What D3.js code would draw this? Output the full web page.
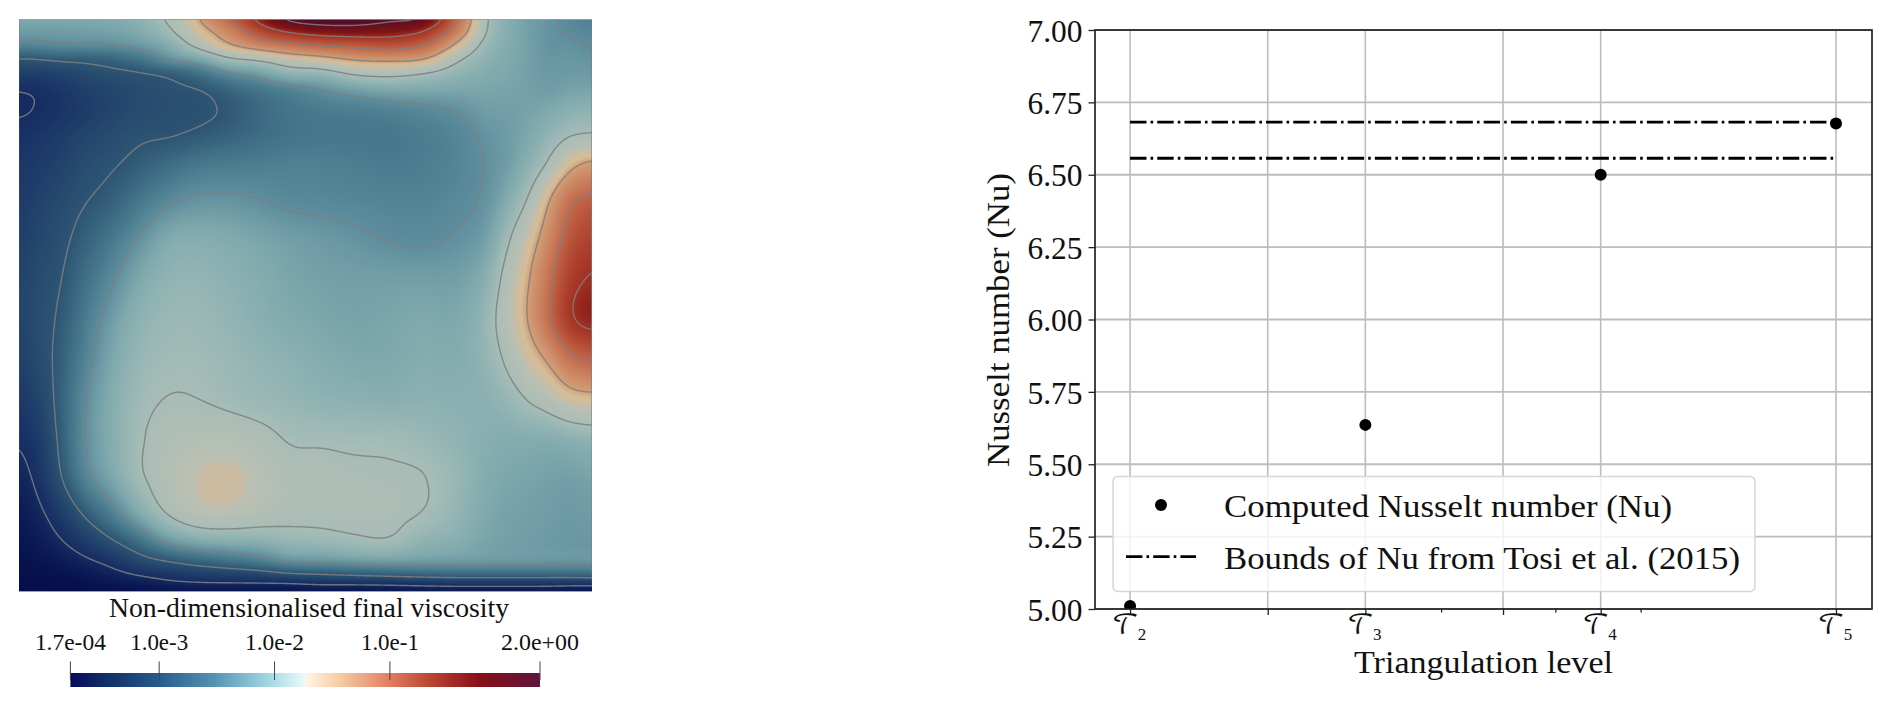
<!DOCTYPE html>
<html><head><meta charset="utf-8">
<style>html,body{margin:0;padding:0;background:#fff}svg{display:block}text{font-family:"Liberation Serif",serif;fill:#111}</style>
<script src="https://d3js.org/d3.v7.min.js"></script></head>
<body><svg id="c" width="1892" height="707"></svg>
<script>
// ---- Right chart data ----
const levelValues=[4,8,16,32];
const levelLabels=["2","3","4","5"];
const nusselt=[5.01,5.636,6.50,6.677];
const boundsNu=[6.682,6.557];
const yTicks=[5,5.25,5.5,5.75,6,6.25,6.5,6.75,7];
const xGridExtra=[6,12];
const xMinor=[10,14,18];
const legendLabels=["Computed Nusselt number (Nu)","Bounds of Nu from Tosi et al. (2015)"];
// ---- Left field data: log10 viscosity estimated at sample nodes (one array per column) ----
const fieldCols=[0,20,40,65,90,120,150,180,210,240,270,300,335,370,405,440,470,490,510,530,550,573];
const fieldRows=[0,12,25,40,55,70,90,115,145,180,220,260,300,340,380,420,460,500,525,545,558,566,573];
const fieldLog=[
[-2.3,-2.4,-2.58,-3.02,-3.3,-3.49,-3.52,-3.46,-3.4,-3.35,-3.3,-3.25,-3.25,-3.3,-3.38,-3.5,-3.6,-3.68,-3.72,-3.75,-3.76,-3.77,-3.77],
[-2.3,-2.4,-2.56,-3,-3.3,-3.46,-3.49,-3.4,-3.33,-3.25,-3.18,-3.12,-3.1,-3.12,-3.22,-3.33,-3.44,-3.58,-3.66,-3.72,-3.75,-3.76,-3.77],
[-2.3,-2.4,-2.52,-2.95,-3.25,-3.38,-3.42,-3.33,-3.25,-3.15,-3.08,-3.03,-2.98,-2.94,-2.92,-2.96,-3.06,-3.38,-3.55,-3.68,-3.74,-3.76,-3.77],
[-2.3,-2.38,-2.52,-2.93,-3.15,-3.28,-3.32,-3.22,-3.12,-3.02,-2.9,-2.78,-2.68,-2.6,-2.53,-2.51,-2.6,-3.02,-3.35,-3.58,-3.7,-3.74,-3.77],
[-2.28,-2.36,-2.5,-2.88,-3.08,-3.2,-3.22,-3.14,-3.04,-2.92,-2.72,-2.56,-2.42,-2.34,-2.28,-2.28,-2.35,-2.72,-3.1,-3.46,-3.63,-3.7,-3.76],
[-2.2,-2.28,-2.42,-2.75,-3.03,-3.12,-3.12,-3.04,-2.92,-2.72,-2.48,-2.3,-2.19,-2.12,-2.07,-2.03,-2.05,-2.35,-2.8,-3.2,-3.52,-3.66,-3.75],
[-1.95,-2.06,-2.25,-2.5,-2.95,-3.05,-3.08,-3.02,-2.8,-2.55,-2.28,-2.16,-2.1,-2.05,-1.99,-1.9,-1.85,-2.03,-2.48,-3.05,-3.42,-3.58,-3.74],
[-1.5,-1.65,-1.87,-2.35,-2.78,-3,-3.05,-2.96,-2.7,-2.47,-2.25,-2.15,-2.1,-2.05,-2,-1.86,-1.72,-1.86,-2.33,-2.92,-3.35,-3.55,-3.72],
[-0.98,-1.28,-1.52,-2.05,-2.55,-2.85,-2.96,-2.88,-2.67,-2.47,-2.28,-2.2,-2.15,-2.1,-2.05,-1.86,-1.68,-1.85,-2.28,-2.82,-3.3,-3.55,-3.72],
[-0.38,-0.75,-1.25,-1.95,-2.42,-2.72,-2.82,-2.8,-2.65,-2.5,-2.33,-2.26,-2.22,-2.15,-2.1,-1.92,-1.79,-1.91,-2.25,-2.72,-3.25,-3.55,-3.72],
[0.1,-0.45,-1.05,-1.75,-2.2,-2.6,-2.72,-2.73,-2.63,-2.55,-2.38,-2.33,-2.28,-2.2,-2.13,-2.02,-1.92,-1.96,-2.15,-2.55,-3.15,-3.55,-3.72],
[0.25,-0.3,-0.93,-1.65,-2.18,-2.5,-2.67,-2.7,-2.63,-2.56,-2.42,-2.36,-2.32,-2.25,-2.18,-2.03,-1.92,-1.96,-2.13,-2.53,-3.1,-3.5,-3.72],
[0.25,-0.25,-0.85,-1.47,-1.98,-2.38,-2.64,-2.7,-2.65,-2.58,-2.46,-2.38,-2.35,-2.3,-2.2,-2.05,-1.95,-1.95,-2.08,-2.47,-3.05,-3.5,-3.72],
[0.08,-0.3,-0.78,-1.43,-1.93,-2.3,-2.6,-2.7,-2.67,-2.6,-2.51,-2.38,-2.33,-2.3,-2.22,-2.05,-1.97,-1.96,-2.05,-2.45,-3,-3.48,-3.72],
[-0.03,-0.5,-0.95,-1.5,-2.02,-2.3,-2.55,-2.65,-2.65,-2.6,-2.53,-2.38,-2.3,-2.25,-2.2,-2.1,-1.99,-2.03,-2.2,-2.45,-2.95,-3.45,-3.7],
[-1.05,-1.25,-1.6,-1.97,-2.18,-2.32,-2.48,-2.57,-2.58,-2.55,-2.47,-2.37,-2.3,-2.26,-2.22,-2.17,-2.13,-2.17,-2.25,-2.46,-2.92,-3.42,-3.7],
[-2.05,-2.07,-2.15,-2.22,-2.28,-2.33,-2.38,-2.45,-2.48,-2.45,-2.35,-2.2,-2.1,-2.13,-2.2,-2.24,-2.28,-2.32,-2.36,-2.46,-2.92,-3.42,-3.7],
[-2.25,-2.25,-2.27,-2.3,-2.32,-2.35,-2.38,-2.4,-2.38,-2.25,-2.02,-1.85,-1.8,-1.93,-2.12,-2.26,-2.32,-2.36,-2.38,-2.47,-2.92,-3.42,-3.7],
[-2.38,-2.38,-2.37,-2.37,-2.37,-2.37,-2.35,-2.3,-2.2,-1.98,-1.68,-1.52,-1.48,-1.67,-1.97,-2.25,-2.34,-2.38,-2.4,-2.47,-2.92,-3.42,-3.7],
[-2.45,-2.47,-2.47,-2.45,-2.43,-2.4,-2.3,-2.17,-1.96,-1.53,-1.3,-1.1,-1.05,-1.45,-1.85,-2.25,-2.36,-2.4,-2.42,-2.48,-2.92,-3.43,-3.7],
[-2.55,-2.52,-2.47,-2.43,-2.4,-2.35,-2.22,-2.02,-1.6,-1.1,-0.83,-0.62,-0.55,-1.08,-1.65,-2.2,-2.38,-2.42,-2.44,-2.48,-2.92,-3.45,-3.72],
[-2.62,-2.58,-2.53,-2.47,-2.42,-2.33,-2.18,-1.98,-1.42,-0.9,-0.62,-0.46,-0.38,-0.92,-1.6,-2.15,-2.33,-2.4,-2.44,-2.48,-2.9,-3.45,-3.72]];
const contourLevels=[-3.5,-3,-2.5,-2,-1.5,-1,-0.5,0];
const barTicks=[0.00017,0.001,0.01,0.1,2];
const barLabels=["1.7e-04","1.0e-3","1.0e-2","1.0e-1","2.0e+00"];
const barLabelWidths=[71,58,59,58,78];
const logDomain=[Math.log10(0.00017),Math.log10(2)];
// colour ramps (log10 viscosity -> colour)
const barStopsT=[0,.08,.188,.31,.43,.498,.505,.58,.68,.78,.87,1];
const barStopsC=["#05095a","#123068","#285a8c","#5596b4","#a9dce6","#ebfafa","#fff3e0","#f5c8a0","#e07d5f","#b43c2d","#870f19","#5f143c"];
const fieldStopsV=[-3.77,-3.5,-3,-2.7,-2.5,-2.3,-2.1,-2,-1.74,-1.725,-1.6,-1.5,-1,-0.5,-0.3,0,0.3];
const fieldStopsC=["#050f4b","#162d64","#2d5573","#46788c","#5f8f9e","#7fa9ad","#9ab8b5","#a8bdb7","#bcc0b2","#c9bca5","#d6bd98","#d2a078","#c3694b","#a53223","#821414","#5f0f23","#500a32"];

const svg=d3.select("#c");
const fld={x:19,y:19.4,w:573,h:572};
const fieldColor=d3.scaleLinear().domain(fieldStopsV).range(fieldStopsC).clamp(true);

// cubic resample through the sample nodes
function resample(xs,ys,xq){
  const n=xs.length,h=[],s=[],m=new Array(n);
  for(let i=0;i<n-1;i++){h[i]=xs[i+1]-xs[i];s[i]=(ys[i+1]-ys[i])/h[i];}
  m[0]=s[0];m[n-1]=s[n-2];
  for(let i=1;i<n-1;i++) m[i]=(s[i-1]*h[i]+s[i]*h[i-1])/(h[i-1]+h[i]);
  let k=0;
  return xq.map(x=>{
    while(k<n-2&&x>xs[k+1])k++;
    while(k>0&&x<xs[k])k--;
    const t=(x-xs[k])/h[k],t2=t*t,t3=t2*t;
    return (2*t3-3*t2+1)*ys[k]+(t3-2*t2+t)*h[k]*m[k]+(-2*t3+3*t2)*ys[k+1]+(t3-t2)*h[k]*m[k+1];
  });
}
const N=574;
const fine=d3.range(N).map(i=>i*573/(N-1));
const colsFine=fieldLog.map(c=>resample(fieldRows,c,fine));
const values=new Float64Array(N*N);
for(let j=0;j<N;j++){
  const row=resample(fieldCols,colsFine.map(c=>c[j]),fine);
  for(let i=0;i<N;i++)values[j*N+i]=row[i];
}
// soften sampling seams
d3.blur2({data:values,width:N,height:N},7,2);
// paint the field
const cv=document.createElement("canvas");cv.width=N;cv.height=N;
const g2=cv.getContext("2d"),img=g2.createImageData(N,N);
for(let p=0;p<N*N;p++){
  const c=d3.rgb(fieldColor(values[p]));
  img.data[p*4]=c.r;img.data[p*4+1]=c.g;img.data[p*4+2]=c.b;img.data[p*4+3]=255;
}
g2.putImageData(img,0,0);
const left=svg.append("g").attr("class","field");
svg.append("defs").append("clipPath").attr("id","fclip").append("rect")
  .attr("x",fld.x).attr("y",fld.y).attr("width",fld.w).attr("height",fld.h);
left.append("image").attr("href",cv.toDataURL()).attr("x",fld.x).attr("y",fld.y)
  .attr("width",fld.w).attr("height",fld.h).attr("preserveAspectRatio","none");
const contours=d3.contours().size([N,N]).smooth(true).thresholds(contourLevels)(Array.from(values));
const proj=d3.geoTransform({point(x,y){
  this.stream.point(fld.x+(x-0.5)*fld.w/(N-1),fld.y+(y-0.5)*fld.h/(N-1));}});
left.append("g").attr("clip-path","url(#fclip)").selectAll("path").data(contours).join("path")
  .attr("d",d3.geoPath(proj)).attr("fill","none").attr("stroke","#7f7f7f").attr("stroke-opacity",.85).attr("stroke-width",1.4);

// colour bar
const barX=d3.scaleLinear().domain(logDomain).range([70.4,540]);
const barDefs=svg.select("defs").append("linearGradient").attr("id","bar");
barDefs.selectAll("stop").data(barStopsT).join("stop").attr("offset",d=>d).attr("stop-color",(d,i)=>barStopsC[i]);
const bar=svg.append("g");
bar.append("rect").attr("x",barX.range()[0]).attr("y",673).attr("width",barX.range()[1]-barX.range()[0]).attr("height",14).attr("fill","url(#bar)");
bar.selectAll("line").data(barTicks).join("line")
  .attr("x1",d=>barX(Math.log10(d))).attr("x2",d=>barX(Math.log10(d))).attr("y1",661.5).attr("y2",680)
  .attr("stroke","#444").attr("stroke-width",1);
bar.selectAll("text.t").data(barTicks).join("text").attr("class","t")
  .attr("x",d=>barX(Math.log10(d))).attr("y",650).attr("text-anchor","middle").attr("font-size",23)
  .attr("textLength",(d,i)=>barLabelWidths[i]).attr("lengthAdjust","spacingAndGlyphs")
  .text((d,i)=>barLabels[i]);
bar.append("text").attr("x",309).attr("y",617).attr("text-anchor","middle").attr("font-size",26.5)
  .attr("textLength",400).attr("lengthAdjust","spacingAndGlyphs").text("Non-dimensionalised final viscosity");

// right chart
const pl={l:1095,r:1872,t:30,b:609};
const x=d3.scaleLog().base(2).domain([Math.pow(2,1.851),Math.pow(2,5.153)]).range([pl.l,pl.r]);
const y=d3.scaleLinear().domain([5,7]).range([pl.b,pl.t]);
svg.select("defs").append("clipPath").attr("id","pclip").append("rect")
  .attr("x",pl.l).attr("y",pl.t).attr("width",pl.r-pl.l).attr("height",pl.b-pl.t);
const right=svg.append("g");
const gridX=levelValues.concat(xGridExtra);
right.append("g").selectAll("line").data(gridX).join("line")
  .attr("x1",d=>x(d)).attr("x2",d=>x(d)).attr("y1",pl.t).attr("y2",pl.b).attr("stroke","#bdbdbd").attr("stroke-width",1.6);
right.append("g").selectAll("line").data(yTicks).join("line")
  .attr("y1",d=>y(d)).attr("y2",d=>y(d)).attr("x1",pl.l).attr("x2",pl.r).attr("stroke","#bdbdbd").attr("stroke-width",1.8);
const dash="16.4 4.1 2.6 4.1";
right.append("g").selectAll("line").data(boundsNu).join("line")
  .attr("x1",x(levelValues[0])).attr("x2",x(levelValues[3])).attr("y1",d=>y(d)).attr("y2",d=>y(d))
  .attr("stroke","#000").attr("stroke-width",2.8).attr("stroke-dasharray",dash);
right.append("g").attr("clip-path","url(#pclip)").selectAll("circle").data(nusselt).join("circle")
  .attr("cx",(d,i)=>x(levelValues[i])).attr("cy",d=>y(d)).attr("r",6).attr("fill","#000");
// axes
const yAxis=d3.axisLeft(y).tickValues(yTicks).tickFormat(d3.format(".2f")).tickSize(6.5).tickPadding(6);
const ya=right.append("g").attr("transform",`translate(${pl.l},0)`).call(yAxis);
ya.selectAll("text").attr("font-size",31).attr("font-family","Liberation Serif").attr("dy","0.36em")
  .attr("textLength",55).attr("lengthAdjust","spacingAndGlyphs");
const xAxis=d3.axisBottom(x).tickValues(levelValues.concat(xGridExtra)).tickSize(6).tickFormat("");
const xa=right.append("g").attr("transform",`translate(0,${pl.b})`).call(xAxis);
const xb=d3.axisBottom(x).tickValues(xMinor).tickSize(3.5).tickFormat("");
right.append("g").attr("transform",`translate(0,${pl.b})`).call(xb);
right.selectAll(".domain").remove();
right.selectAll(".tick line").attr("stroke","#222").attr("stroke-width",1.3);
right.append("rect").attr("x",pl.l).attr("y",pl.t).attr("width",pl.r-pl.l).attr("height",pl.b-pl.t)
  .attr("fill","none").attr("stroke","#222").attr("stroke-width",1.7);
// x tick labels
const tl=right.append("g").selectAll("text").data(levelValues).join("text")
  .attr("x",d=>x(d)-1).attr("y",634).attr("text-anchor","middle").attr("font-size",26);
tl.append("tspan").style("font-family","'DejaVu Math TeX Gyre','DejaVu Serif','Noto Sans',serif").text("\u{1D4AF}");
tl.append("tspan").attr("dy",6).attr("dx",-1).attr("font-size",17).text((d,i)=>levelLabels[i]);
right.append("text").attr("x",1483.5).attr("y",673).attr("text-anchor","middle").attr("font-size",31)
  .attr("textLength",259).attr("lengthAdjust","spacingAndGlyphs").text("Triangulation level");
right.append("text").attr("transform","translate(1009,320) rotate(-90)").attr("text-anchor","middle").attr("font-size",31)
  .attr("textLength",294).attr("lengthAdjust","spacingAndGlyphs").text("Nusselt number (Nu)");
// legend
const lg=right.append("g");
lg.append("rect").attr("x",1113).attr("y",476.5).attr("width",642).attr("height",115).attr("rx",5)
  .attr("fill","#fff").attr("fill-opacity",.8).attr("stroke","#d6d6d6").attr("stroke-width",1.5);
lg.append("circle").attr("cx",1161).attr("cy",505).attr("r",6).attr("fill","#000");
lg.append("line").attr("x1",1126).attr("x2",1196).attr("y1",556.7).attr("y2",556.7)
  .attr("stroke","#000").attr("stroke-width",2.8).attr("stroke-dasharray",dash);
lg.selectAll("text").data(legendLabels).join("text").attr("x",1224).attr("y",(d,i)=>i?569:517).attr("font-size",32)
  .attr("textLength",(d,i)=>i?516:448).attr("lengthAdjust","spacingAndGlyphs").text(d=>d);
</script></body></html>
